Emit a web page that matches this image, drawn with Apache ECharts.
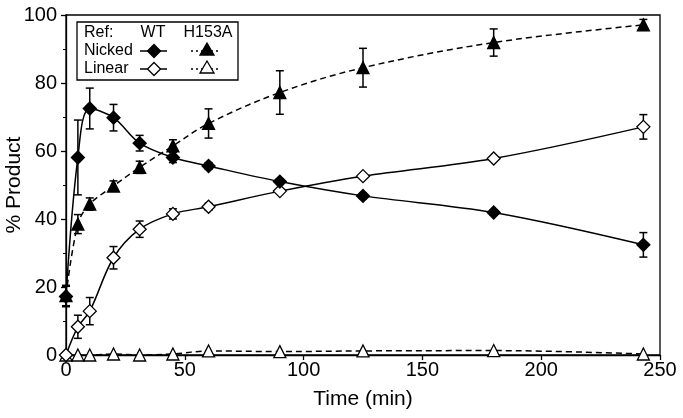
<!DOCTYPE html>
<html><head><meta charset="utf-8">
<script src="https://cdn.jsdelivr.net/npm/echarts@6/dist/echarts.min.js"></script>
<style>html,body{margin:0;padding:0;background:#fff}#c{width:683px;height:418px}</style>
</head><body><div id="c"></div>
<script>
const times = [0, 5, 10, 20, 31, 45, 60, 90, 125, 180, 243];
const wtNicked = [17.2, 58.1, 72.5, 69.8, 62.3, 58.1, 55.6, 51.0, 46.8, 41.9, 32.4];
const wtNickedErr = [3, 11, 6, 3.9, 2.3, 1.5, 1, 0.8, 0.8, 0.8, 3.6];
const h153aNicked = [17.5, 38.5, 44.4, 49.7, 55.2, 61.5, 68.1, 77.2, 84.5, 91.9, 97.1];
const h153aNickedErr = [3, 2.8, 1.8, 1.5, 1.8, 1.8, 4.3, 6.4, 5.7, 4, 1.6];
const wtLinear = [0, 8.3, 12.9, 28.6, 37.0, 41.5, 43.6, 48.2, 52.6, 57.8, 67.1];
const wtLinearErr = [0, 3.4, 4, 3.3, 2.4, 1.5, 1, 0.5, 0.5, 0.5, 3.6];
const h153aLinear = [0, 0, 0, 0.3, 0, 0.3, 1.2, 1.0, 1.2, 1.3, 0.3];
const xTicks = [0, 50, 100, 150, 200, 250];
const yTicks = [0, 20, 40, 60, 80, 100];

const FONT = 'Liberation Sans';
const pairs = (ys) => times.map((t, i) => [t, ys[i]]);
const errData = (ys, es) => times.map((t, i) => [t, ys[i] - es[i], ys[i] + es[i]]).filter(d => d[2] - d[1] > 0.1);

function errSeries(ys, es) {
  return {
    type: 'custom', z: 1, silent: true,
    data: errData(ys, es),
    renderItem: function (params, api) {
      const x = api.value(0);
      const lo = api.coord([x, api.value(1)]);
      const hi = api.coord([x, api.value(2)]);
      const w = 4;
      const st = { stroke: '#000', lineWidth: 1.5 };
      return { type: 'group', children: [
        { type: 'line', shape: { x1: lo[0], y1: lo[1], x2: hi[0], y2: hi[1] }, style: st },
        { type: 'line', shape: { x1: lo[0] - w, y1: lo[1], x2: lo[0] + w, y2: lo[1] }, style: st },
        { type: 'line', shape: { x1: hi[0] - w, y1: hi[1], x2: hi[0] + w, y2: hi[1] }, style: st }
      ]};
    }
  };
}

function lineSeries(ys, symbol, filled, dashed) {
  return {
    type: 'line', z: 3, data: pairs(ys), smooth: 0.35, symbol: symbol, symbolSize: symbol === 'diamond' ? 13 : 12,
    showAllSymbol: true,
    lineStyle: { color: '#000', width: 1.5, type: dashed ? [6, 4] : 'solid' },
    itemStyle: { color: filled ? '#000' : '#fff', borderColor: '#000', borderWidth: 1.3, opacity: 1 },
    emphasis: { disabled: true }
  };
}

const chart = echarts.init(document.getElementById('c'), null, { renderer: 'canvas' });

const legX = 77, legY = 22;
const lg = [];
lg.push({ type: 'rect', shape: { x: legX, y: legY, width: 161, height: 58 }, style: { fill: '#fff', stroke: '#000', lineWidth: 1.3 }, z: 10 });
const txt = (x, y, s, align) => ({ type: 'text', x: x, y: y, style: { text: s, font: '16px ' + FONT, fill: '#000', textAlign: align || 'left', textVerticalAlign: 'middle' }, z: 11 });
lg.push(txt(84, 33, 'Ref:'));
lg.push(txt(153, 33, 'WT', 'center'));
lg.push(txt(208, 33, 'H153A', 'center'));
lg.push(txt(84, 51, 'Nicked'));
lg.push(txt(84, 69, 'Linear'));
const seg = (x1, x2, y, dashed) => ({ type: 'line', shape: { x1: x1, y1: y, x2: x2, y2: y }, style: { stroke: '#000', lineWidth: 1.5, lineDash: dashed ? [2, 3] : null }, z: 11 });
const diamond = (cx, cy, filled) => ({ type: 'polygon', shape: { points: [[cx, cy - 6.5], [cx + 6.5, cy], [cx, cy + 6.5], [cx - 6.5, cy]] }, style: { fill: filled ? '#000' : '#fff', stroke: '#000', lineWidth: 1.3 }, z: 12 });
const tri = (cx, cy, filled) => ({ type: 'polygon', shape: { points: [[cx, cy - 7], [cx + 7, cy + 5], [cx - 7, cy + 5]] }, style: { fill: filled ? '#000' : '#fff', stroke: '#000', lineWidth: 1.3 }, z: 12 });
lg.push(seg(140, 167, 51, false), diamond(154, 51, true));
lg.push(seg(140, 167, 69, false), diamond(154, 69, false));
lg.push(seg(191, 221, 51, true), tri(207, 50, true));
lg.push(seg(191, 221, 69, true), tri(207, 68, false));

chart.setOption({
  animation: false,
  backgroundColor: '#fff',
  grid: { left: 66, right: 23, top: 15, bottom: 63, containLabel: false, outerBoundsMode: 'none', show: true, borderColor: '#000', borderWidth: 1.3, backgroundColor: 'transparent' },
  xAxis: {
    type: 'value', min: 0, max: 250, interval: 50,
    name: 'Time (min)', nameLocation: 'middle', nameGap: 34, nameMoveOverlap: false,
    nameTextStyle: { fontFamily: FONT, fontSize: 21, color: '#000' },
    axisLine: { show: true, lineStyle: { color: '#000', width: 1.3 } },
    axisTick: { show: true, inside: false, length: 5, lineStyle: { color: '#000', width: 1.3 } },
    axisLabel: { fontFamily: FONT, fontSize: 20, color: '#000', margin: 5, formatter: v => String(v) },
    splitLine: { show: false }
  },
  yAxis: {
    type: 'value', min: 0, max: 100, interval: 20,
    name: '% Product', nameLocation: 'middle', nameGap: 41, nameRotate: 90, nameMoveOverlap: false,
    nameTextStyle: { fontFamily: FONT, fontSize: 21, color: '#000' },
    axisLine: { show: true, lineStyle: { color: '#000', width: 1.3 } },
    axisTick: { show: true, inside: false, length: 5, lineStyle: { color: '#000', width: 1.3 } },
    minorTick: { show: true, splitNumber: 2, length: 3, lineStyle: { color: '#000', width: 1 } },
    axisLabel: { fontFamily: FONT, fontSize: 20, color: '#000', margin: 9, formatter: v => String(v) },
    splitLine: { show: false }
  },
  graphic: lg,
  series: [
    errSeries(wtNicked, wtNickedErr),
    errSeries(h153aNicked, h153aNickedErr),
    errSeries(wtLinear, wtLinearErr),
    lineSeries(h153aLinear, 'triangle', false, true),
    lineSeries(wtLinear, 'diamond', false, false),
    lineSeries(h153aNicked, 'triangle', true, true),
    lineSeries(wtNicked, 'diamond', true, false)
  ]
});
</script></body></html>
